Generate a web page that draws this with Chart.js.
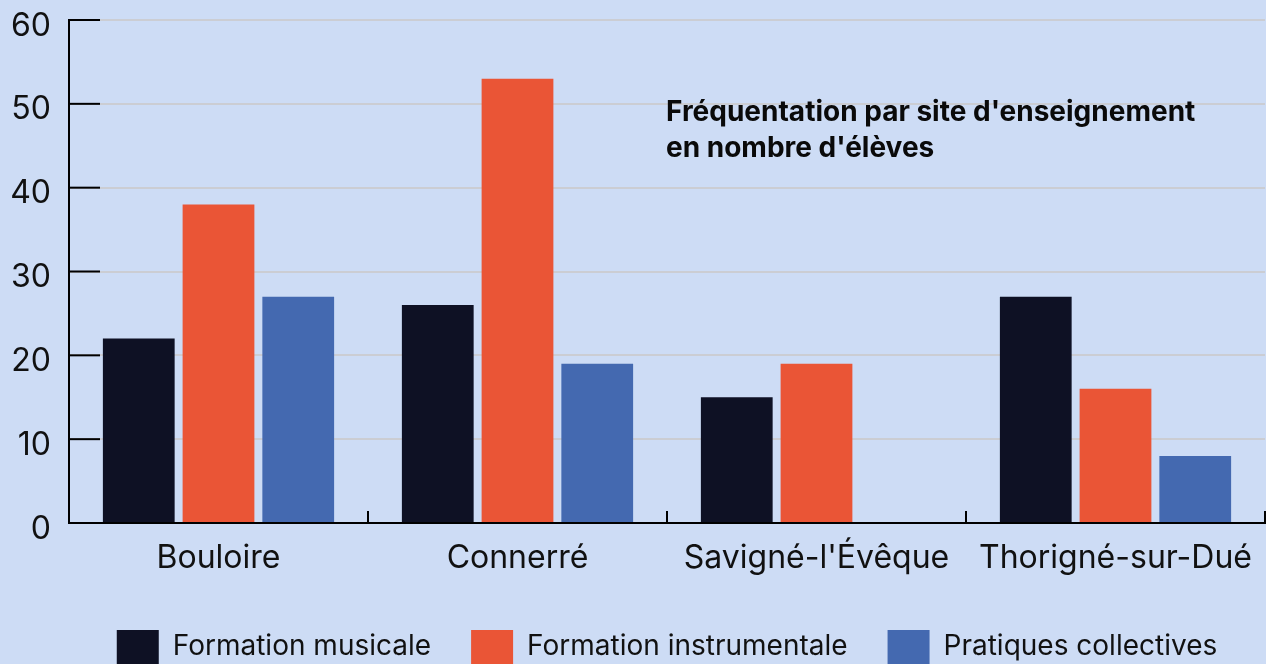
<!DOCTYPE html>
<html>
<head>
<meta charset="utf-8">
<script src="https://cdn.jsdelivr.net/npm/chart.js@4.4.1/dist/chart.umd.min.js"></script>
<style>
  html, body { margin: 0; padding: 0; background: #cddcf5; }
  #wrap { width: 1266px; height: 664px; position: relative; }
</style>
</head>
<body>
<div id="wrap"><canvas id="chart"></canvas></div>
<script>
// Data
const sites = ["Bouloire", "Connerré", "Savigné-l'Évêque", "Thorigné-sur-Dué"];
const formationMusicale = [22, 26, 15, 27];
const formationInstrumentale = [38, 53, 19, 16];
const pratiquesCollectives = [27, 19, null, 8];
const yMin = 0, yMax = 60, yStep = 10;
const titleLines = ["Fréquentation par site d'enseignement", "en nombre d'élèves"];

const FONT = "Inter, 'Noto Sans', sans-serif";
const INK = "#111111";

// Inner tick marks (black) on y axis, upward ticks between categories, and the title
const decorations = {
  id: "decorations",
  afterDraw(chart) {
    const { ctx, chartArea, scales } = chart;
    const y = scales.y, x = scales.x;
    ctx.save();
    ctx.strokeStyle = "#000";
    ctx.lineWidth = 2;
    // y ticks, pointing inside the plot
    y.ticks.forEach((t) => {
      const py = y.getPixelForValue(t.value);
      ctx.beginPath();
      ctx.moveTo(chartArea.left, py);
      ctx.lineTo(chartArea.left + 31, py);
      ctx.stroke();
    });
    // category separators, pointing up
    const step = x.getPixelForValue(1) - x.getPixelForValue(0);
    for (let i = 0; i < sites.length; i++) {
      const px = x.getPixelForValue(i) + step / 2;
      ctx.beginPath();
      ctx.moveTo(px, chartArea.bottom);
      ctx.lineTo(px, chartArea.bottom - 12);
      ctx.stroke();
    }
    // title, inside the plot
    ctx.fillStyle = "#0a0a0a";
    ctx.font = "700 28px " + FONT;
    ctx.textAlign = "left";
    ctx.textBaseline = "alphabetic";
    titleLines.forEach((line, i) => {
      ctx.fillText(line, 666, 121 + i * 36);
    });
    ctx.restore();
  }
};

new Chart(document.getElementById("chart"), {
  type: "bar",
  data: {
    labels: sites,
    datasets: [
      { label: "Formation musicale", data: formationMusicale, backgroundColor: "#0e1124" },
      { label: "Formation instrumentale", data: formationInstrumentale, backgroundColor: "#ea5536" },
      { label: "Pratiques collectives", data: pratiquesCollectives, backgroundColor: "#4469b0" },
    ],
  },
  options: {
    responsive: true,
    maintainAspectRatio: false,
    animation: false,
    devicePixelRatio: 1,
    datasets: { bar: { categoryPercentage: 0.8, barPercentage: 0.9 } },
    layout: { padding: { top: 20, right: 1, left: 0, bottom: -10 } },
    plugins: {
      tooltip: { enabled: false },
      legend: {
        position: "bottom",
        fullSize: false,
        labels: {
          color: INK,
          font: { family: FONT, size: 28 },
          boxWidth: 42,
          boxHeight: 34,
          padding: 40,
        },
      },
    },
    scales: {
      x: {
        grid: { display: true, drawOnChartArea: false, drawTicks: false },
        border: { display: true, color: "#000", width: 2 },
        ticks: { color: INK, font: { family: FONT, size: 32 }, padding: 16 },
        afterFit(scale) { scale.height = 67; scale.paddingLeft = 0; scale.paddingRight = 0; },
      },
      y: {
        min: yMin,
        max: yMax,
        grid: { color: "#cbcdd3", lineWidth: 2, drawTicks: false },
        border: { display: true, color: "#000", width: 2 },
        ticks: { stepSize: yStep, color: INK, font: { family: FONT, size: 32 }, padding: 18, labelOffset: 6 },
        afterFit(scale) { scale.width = 69; scale.paddingTop = 0; scale.paddingBottom = 0; },
      },
    },
  },
  plugins: [decorations],
});
</script>
</body>
</html>
